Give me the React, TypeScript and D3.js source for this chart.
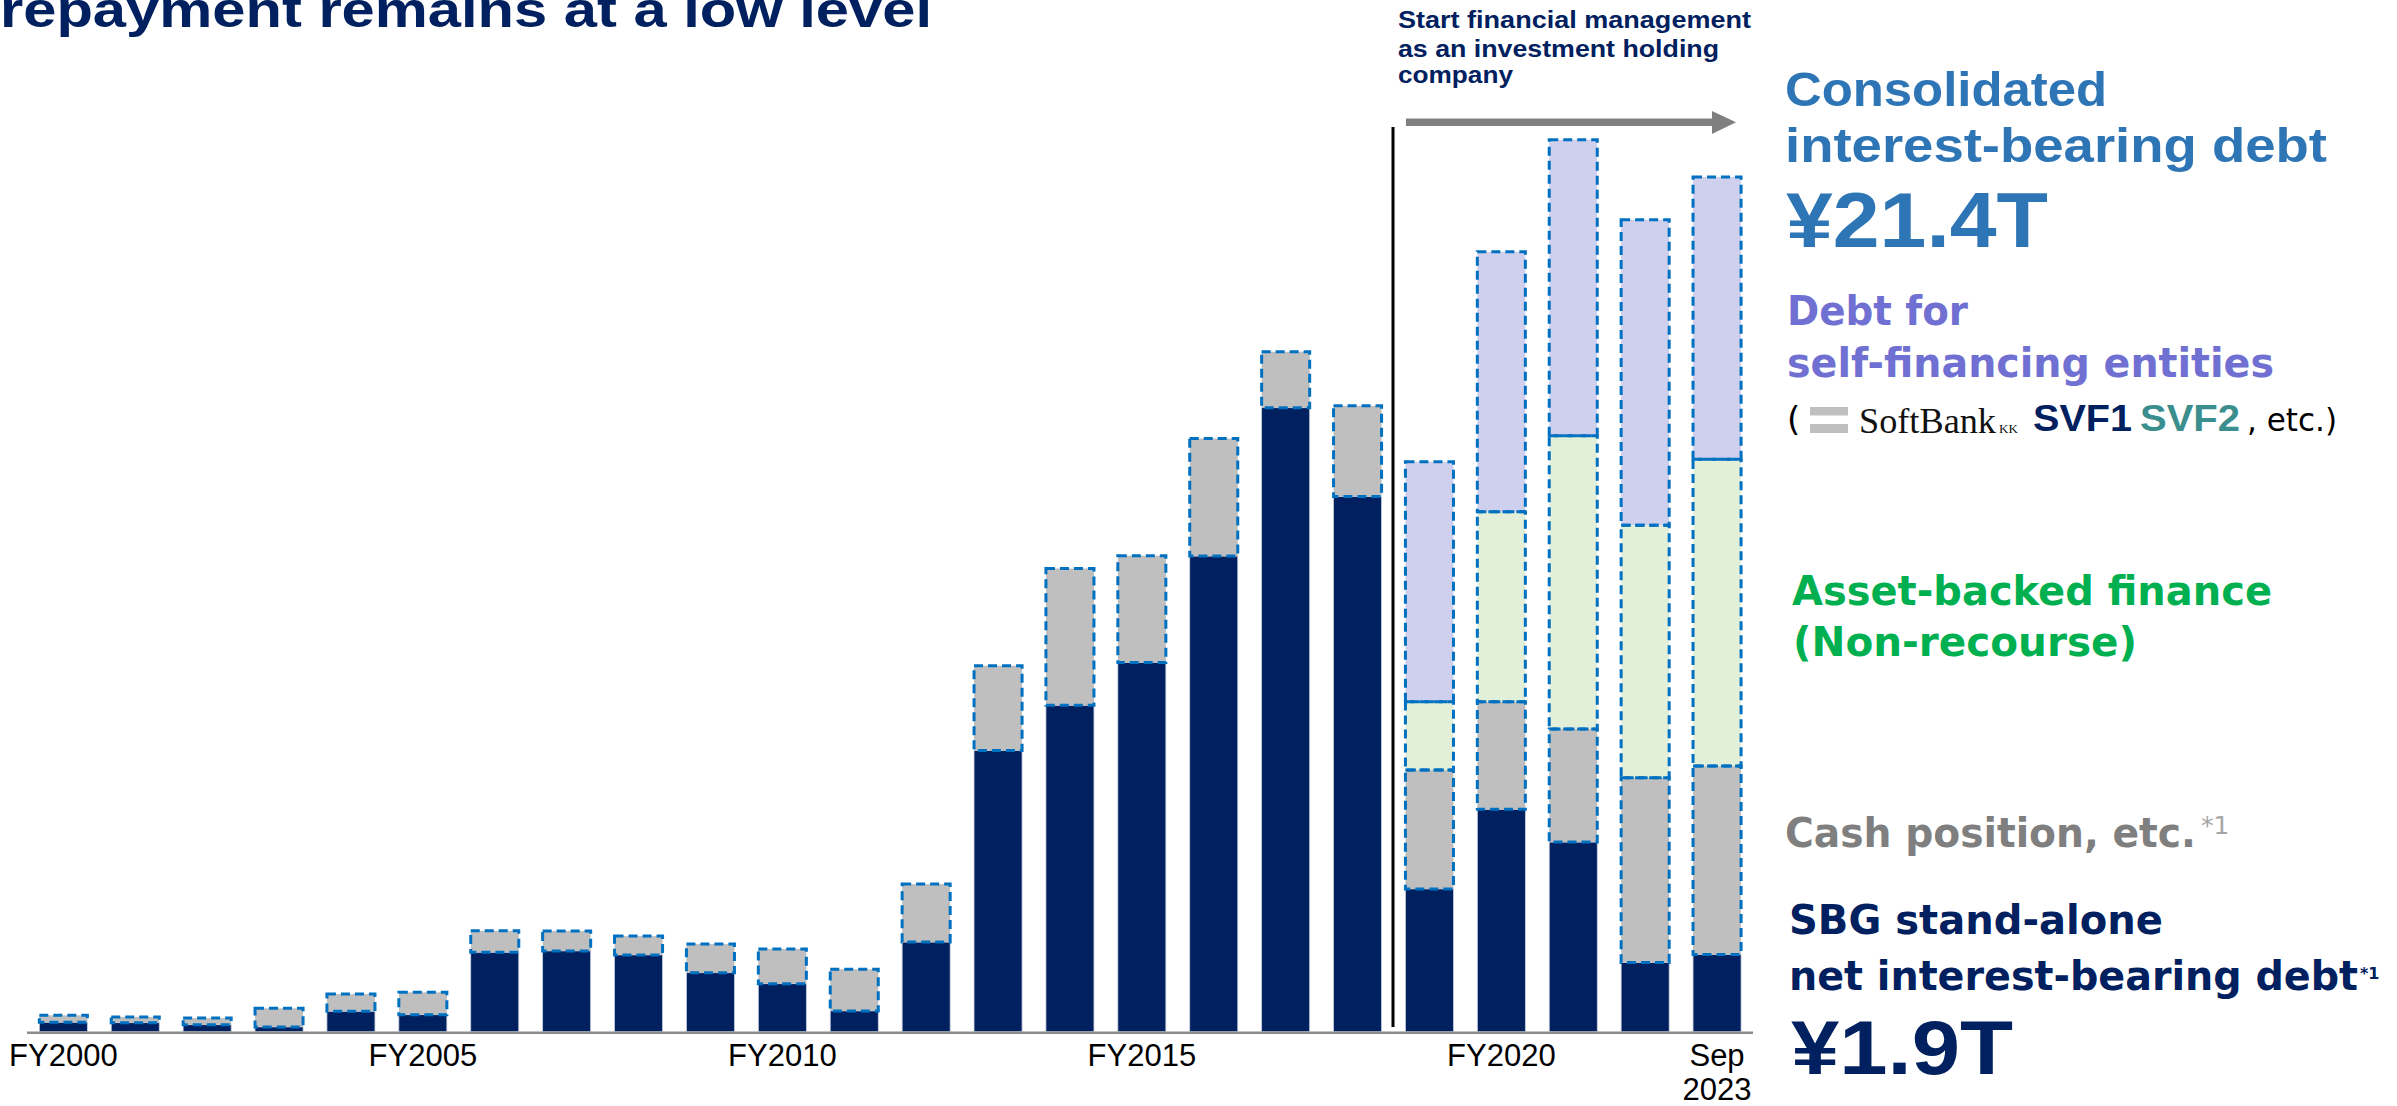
import React from "react";
import * as d3 from "d3";

// ---- data (trillion yen) ----
const categories = [
  "FY2000", "FY2001", "FY2002", "FY2003", "FY2004", "FY2005", "FY2006", "FY2007",
  "FY2008", "FY2009", "FY2010", "FY2011", "FY2012", "FY2013", "FY2014", "FY2015",
  "FY2016", "FY2017", "FY2018", "FY2019", "FY2020", "FY2021", "FY2022", "Sep 2023",
];
const standaloneNetDebt = [
  0.235, 0.225, 0.175, 0.12, 0.51, 0.425, 1.985, 2.02, 1.92, 1.475, 1.2, 0.52,
  2.24, 7.03, 8.16, 9.23, 11.89, 15.6, 13.38, 3.57, 5.56, 4.74, 1.73, 1.93,
];
const cashPosition = [
  0.175, 0.145, 0.165, 0.465, 0.43, 0.56, 0.54, 0.5, 0.47, 0.715, 0.87, 1.04,
  1.45, 2.12, 3.42, 2.67, 2.94, 1.4, 2.27, 2.97, 2.69, 2.83, 4.62, 4.71,
];
const assetBackedFinance = [
  0, 0, 0, 0, 0, 0, 0, 0, 0, 0, 0, 0, 0, 0, 0, 0, 0, 0, 0, 1.71, 4.75, 7.33, 6.31, 7.67,
];
const selfFinancingDebt = [
  0, 0, 0, 0, 0, 0, 0, 0, 0, 0, 0, 0, 0, 0, 0, 0, 0, 0, 0, 6.0, 6.5, 7.4, 7.64, 7.06,
];
const tickCategories = ["FY2000", "FY2005", "FY2010", "FY2015", "FY2020", "Sep 2023"];
const tickLabels = [["FY2000"], ["FY2005"], ["FY2010"], ["FY2015"], ["FY2020"], ["Sep", "2023"]];
const seriesKeys = ["net", "cash", "abf", "self"];

// ---- styles ----
const NAVY = "#002060";
const FILLS: Record<string, string> = {
  net: "#002060",
  cash: "#BFBFBF",
  abf: "#E2F0D9",
  self: "#CFCFEE",
};
const DASH = "#0070C0";
const W = 2397;
const H = 1106;
const SANS = "'Liberation Sans', Arial, sans-serif";
const VERD = "'DejaVu Sans', Verdana, sans-serif";

export default function App() {
  const rows = categories.map((c, i) => ({
    cat: c,
    net: standaloneNetDebt[i],
    cash: cashPosition[i],
    abf: assetBackedFinance[i],
    self: selfFinancingDebt[i],
  }));
  const stacked = d3.stack<any>().keys(seriesKeys)(rows);

  const x = d3
    .scaleBand<string>()
    .domain(categories)
    .range([27.4, 1753])
    .paddingInner(0.332)
    .paddingOuter(0.166);
  const y = d3.scaleLinear().domain([0, 25]).range([1031.7, 31.7]);
  const bw = x.bandwidth();

  const segs: any[] = [];
  stacked.forEach((layer) => {
    layer.forEach((d: any) => {
      const v = d[1] - d[0];
      if (v <= 0) return;
      segs.push({
        key: layer.key,
        x: x(d.data.cat) as number,
        y0: y(d[0]),
        y1: y(d[1]),
      });
    });
  });

  return (
    <svg
      width={W}
      height={H}
      viewBox={`0 0 ${W} ${H}`}
      style={{ position: "absolute", left: 0, top: 0, display: "block", background: "#fff" }}
    >
      {/* title (cut off at the top, as in the slide) */}
      <text x={0} y={27} fontFamily={SANS} fontWeight="bold" fontSize={50} fill={NAVY}
        textLength={932} lengthAdjust="spacingAndGlyphs">
        repayment remains at a low level
      </text>

      {/* bar fills */}
      {segs.map((s, i) => (
        <rect key={"f" + i} x={s.x} y={s.y1} width={bw} height={s.y0 - s.y1}
          fill={FILLS[s.key]} stroke={s.key === "net" ? "#C9CEDD" : "none"} strokeWidth={s.key === "net" ? 0.8 : 0} />
      ))}
      {/* dashed borders */}
      {segs.filter((s) => s.key !== "net").map((s, i) => (
        <rect key={"b" + i} x={s.x} y={s.y1} width={bw} height={s.y0 - s.y1}
          fill="none" stroke={DASH} strokeWidth={3} strokeDasharray="9 5" />
      ))}

      {/* baseline axis */}
      <line x1={27} x2={1753} y1={y(0) + 1} y2={y(0) + 1} stroke="#8C8C8C" strokeWidth={2.5} />

      {/* tick labels */}
      {tickCategories.map((c, i) => (
        <text key={c} x={(x(c) as number) + bw / 2} y={1066} textAnchor="middle"
          fontFamily={SANS} fontSize={31} fill="#000">
          {tickLabels[i].map((t, j) => (
            <tspan key={j} x={(x(c) as number) + bw / 2} dy={j === 0 ? 0 : 33.5}>{t}</tspan>
          ))}
        </text>
      ))}

      {/* divider + arrow */}
      <line x1={1393} x2={1393} y1={127} y2={1027} stroke="#000" strokeWidth={3} />
      <rect x={1406} y={118.5} width={308} height={7.5} fill="#7F7F7F" />
      <path d="M1712,111 L1736,122.3 L1712,134 Z" fill="#7F7F7F" />

      <g fontFamily={SANS} fontWeight="bold" fontSize={23} fill={NAVY}>
        <text x={1398} y={28.3} textLength={353} lengthAdjust="spacingAndGlyphs">Start financial management</text>
        <text x={1398} y={56.7} textLength={321} lengthAdjust="spacingAndGlyphs">as an investment holding</text>
        <text x={1398} y={83.3} textLength={115} lengthAdjust="spacingAndGlyphs">company</text>
      </g>

      {/* consolidated */}
      <g fontFamily={SANS} fontWeight="bold" fill="#2E75B6">
        <text x={1785} y={106} fontSize={48} textLength={322} lengthAdjust="spacingAndGlyphs">Consolidated</text>
        <text x={1785} y={162} fontSize={48} textLength={542} lengthAdjust="spacingAndGlyphs">interest-bearing debt</text>
        <text x={1786} y={247} fontSize={78} textLength={262} lengthAdjust="spacingAndGlyphs">¥21.4T</text>
      </g>

      {/* self-financing */}
      <g fontFamily={VERD} fontWeight="bold" fill="#7070D2" fontSize={40}>
        <text x={1787} y={325} textLength={181} lengthAdjust="spacingAndGlyphs">Debt for</text>
        <text x={1787} y={377} textLength={487} lengthAdjust="spacingAndGlyphs">self-financing entities</text>
      </g>
      <text x={1787} y={431} fontFamily={VERD} fontSize={34} fill="#000">(</text>
      <rect x={1810} y={407} width={38} height={8.5} fill="#BFBFBF" />
      <rect x={1810} y={424} width={38} height={9} fill="#BFBFBF" />
      <text x={1859} y={433} fontFamily="'Liberation Serif', 'Times New Roman', serif" fontSize={36} fill="#111"
        textLength={137} lengthAdjust="spacingAndGlyphs">SoftBank</text>
      <text x={1999} y={433} fontFamily="'Liberation Serif', serif" fontSize={13} fill="#111">KK</text>
      <text x={2033} y={431} fontFamily={SANS} fontWeight="bold" fontSize={37} fill={NAVY}
        textLength={99} lengthAdjust="spacingAndGlyphs">SVF1</text>
      <text x={2140} y={431} fontFamily={SANS} fontWeight="bold" fontSize={37} fill="#3B8E8E"
        textLength={100} lengthAdjust="spacingAndGlyphs">SVF2</text>
      <text x={2247} y={431} fontFamily={VERD} fontSize={32} fill="#000"
        textLength={90} lengthAdjust="spacingAndGlyphs">, etc.)</text>

      {/* asset-backed */}
      <g fontFamily={VERD} fontWeight="bold" fill="#00B050" fontSize={40}>
        <text x={1792} y={605} textLength={480} lengthAdjust="spacingAndGlyphs">Asset-backed finance</text>
        <text x={1793} y={656} textLength={344} lengthAdjust="spacingAndGlyphs">(Non-recourse)</text>
      </g>

      {/* cash */}
      <text x={1785} y={847} fontFamily={VERD} fontWeight="bold" fontSize={40} fill="#7F7F7F"
        textLength={411} lengthAdjust="spacingAndGlyphs">Cash position, etc.</text>
      <text x={2201} y={834} fontFamily={VERD} fontSize={25} fill="#A6A6A6">*1</text>

      {/* SBG stand-alone */}
      <g fontFamily={VERD} fontWeight="bold" fill={NAVY} fontSize={40}>
        <text x={1789} y={933.5} textLength={374} lengthAdjust="spacingAndGlyphs">SBG stand-alone</text>
        <text x={1789} y={989.5} textLength={569} lengthAdjust="spacingAndGlyphs">net interest-bearing debt</text>
      </g>
      <text x={2360} y={979} fontFamily={VERD} fontWeight="bold" fontSize={16} fill={NAVY}>*1</text>
      <text x={1791} y={1074} fontFamily={SANS} fontWeight="bold" fontSize={76} fill={NAVY}
        textLength={222} lengthAdjust="spacingAndGlyphs">¥1.9T</text>
    </svg>
  );
}
